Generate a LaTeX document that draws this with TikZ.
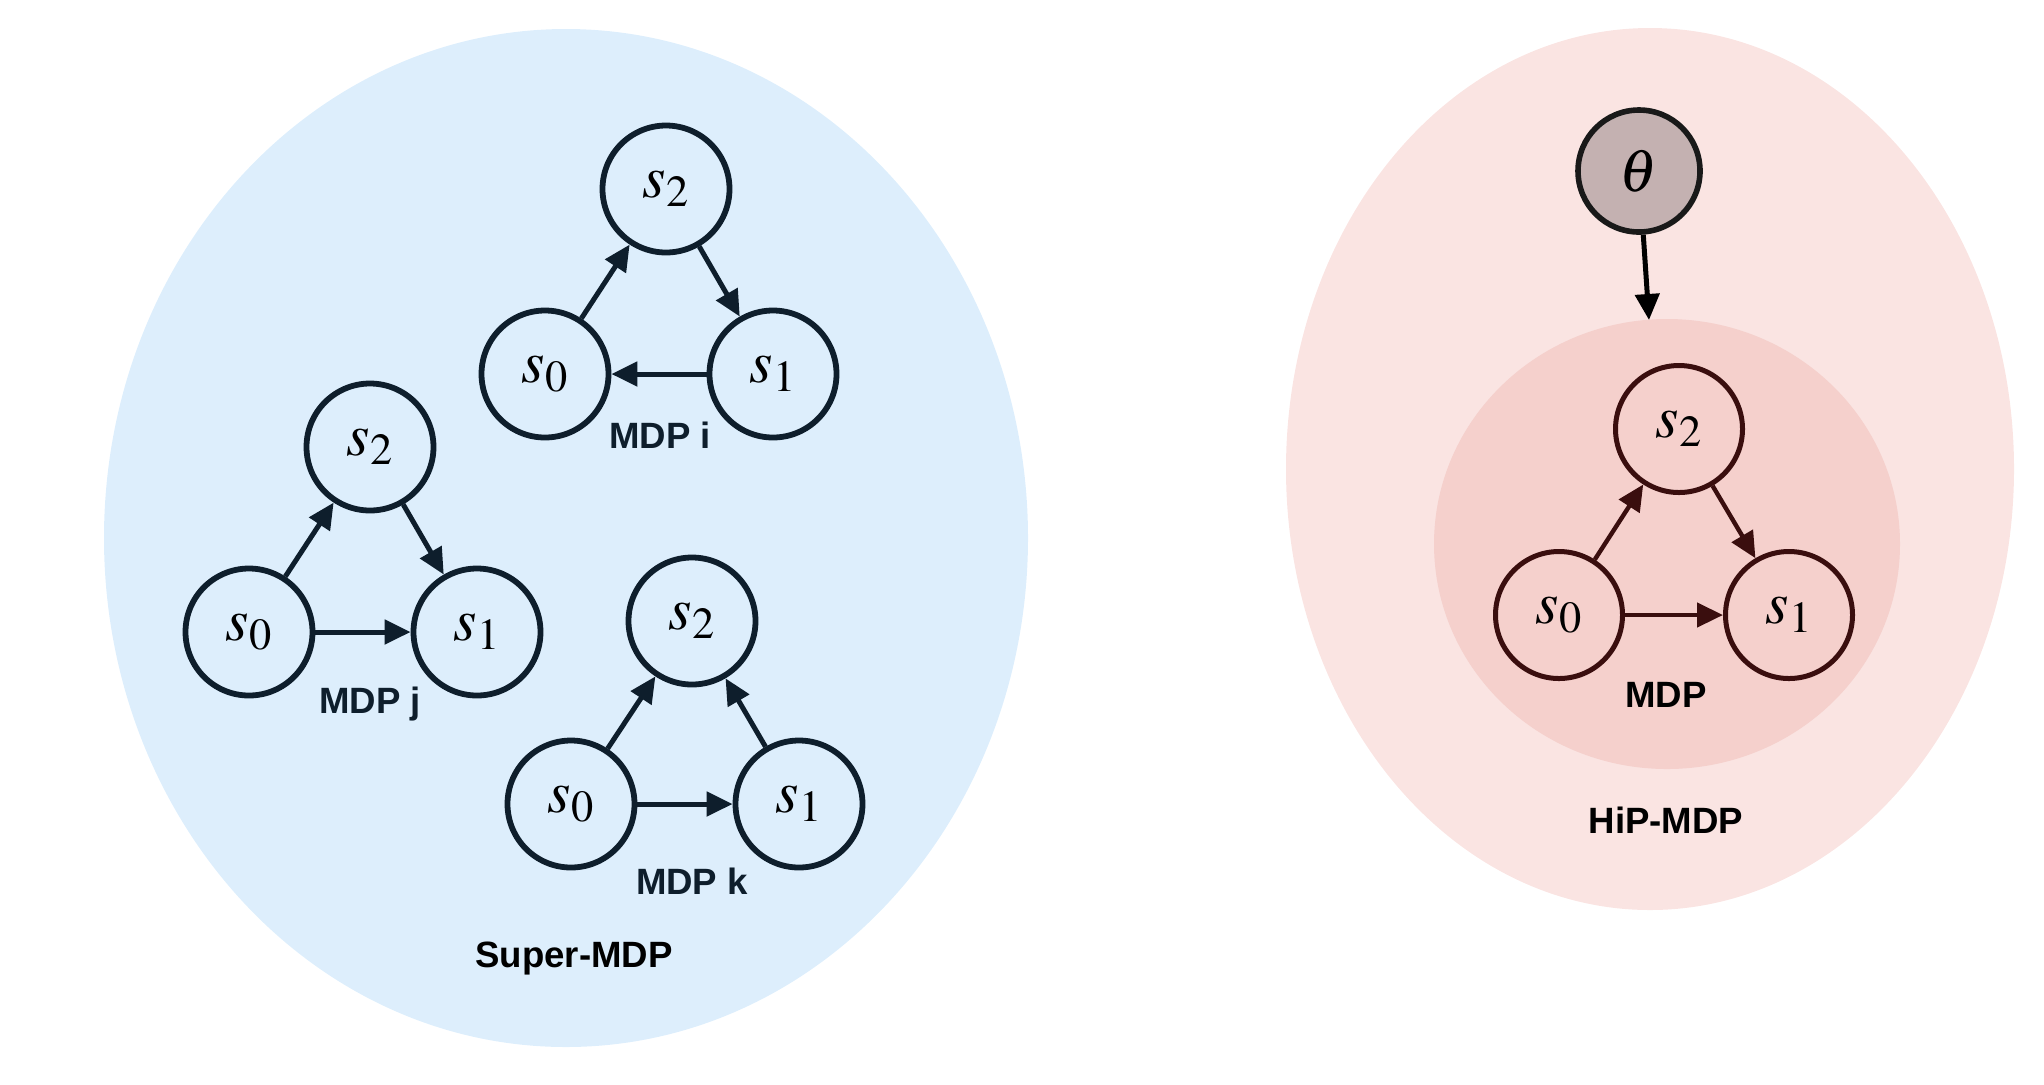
\documentclass[tikz,border=0pt]{standalone}
\usepackage{mathptmx}
\usepackage{fontspec}
\newfontfamily\labfont{Liberation Sans}
\usetikzlibrary{arrows.meta}
\definecolor{bluebg}{HTML}{DDEEFC}
\definecolor{navy}{HTML}{0E1E2C}
\definecolor{pinkout}{HTML}{FAE4E2}
\definecolor{pinkin}{HTML}{F5D0CC}
\definecolor{brownline}{HTML}{3A0E0E}
\definecolor{thetafill}{HTML}{C4B1B1}
\begin{document}
\begin{tikzpicture}[x=0.5pt,y=-0.5pt,
  st/.style={circle,draw=navy,line width=2.9pt,minimum size=63.5pt,inner sep=0pt,font=\fontsize{30}{34}\selectfont},
  hst/.style={st,draw=brownline,line width=2.5pt},
  ar/.style={-{Triangle[length=13pt,width=12pt]},line width=2.5pt,draw=navy},
  har/.style={ar,draw=brownline,line width=2.2pt},
  lab/.style={font=\labfont\bfseries\fontsize{18.3}{22}\selectfont,text=navy},
  hlab/.style={lab,text=black}]
\useasboundingbox (0,0) rectangle (2044,1084);
% backgrounds
\fill[bluebg] (566,538) ellipse [x radius=231pt, y radius=254.5pt];
\fill[pinkout] (1650,469) ellipse [x radius=182pt, y radius=220.5pt];
\fill[pinkin] (1667,544) ellipse [x radius=116.5pt, y radius=112.5pt];
% MDP i
\node[st] (i2) at (666,189) {$s_2$};
\node[st] (i0) at (545,374) {$s_0$};
\node[st] (i1) at (773,374) {$s_1$};
\draw[ar] (i0) -- (i2);
\draw[ar] (i2) -- (i1);
\draw[ar] (i1) -- (i0);
\node[lab] (li) at (660,435) {MDP i};
% MDP j
\node[st] (j2) at (370,447) {$s_2$};
\node[st] (j0) at (249,632) {$s_0$};
\node[st] (j1) at (477,632) {$s_1$};
\draw[ar] (j0) -- (j2);
\draw[ar] (j2) -- (j1);
\draw[ar] (j0) -- (j1);
\node[lab] (lj) at (370,704) {MDP j};
% MDP k
\node[st] (k2) at (692,621) {$s_2$};
\node[st] (k0) at (571,804) {$s_0$};
\node[st] (k1) at (799,804) {$s_1$};
\draw[ar] (k0) -- (k2);
\draw[ar] (k1) -- (k2);
\draw[ar] (k0) -- (k1);
\node[lab] (lk) at (692,881) {MDP k};
\node[hlab] (lsuper) at (574,958) {Super-MDP};
% HiP-MDP
\node[st,draw=black!90,fill=thetafill,line width=2.8pt,minimum size=61pt] (theta) at (1639,171) {$\theta$};
\coordinate (thetaend) at (1649,320);
\draw[ar,draw=black] (theta) -- (thetaend);
\node[hst] (h2) at (1679,429) {$s_2$};
\node[hst] (h0) at (1559,615) {$s_0$};
\node[hst] (h1) at (1789,615) {$s_1$};
\draw[har] (h0) -- (h2);
\draw[har] (h2) -- (h1);
\draw[har] (h0) -- (h1);
\node[hlab] (lmdp) at (1666,695) {MDP};
\node[hlab] (lhip) at (1666,820) {HiP-MDP};
\end{tikzpicture}
\end{document}
